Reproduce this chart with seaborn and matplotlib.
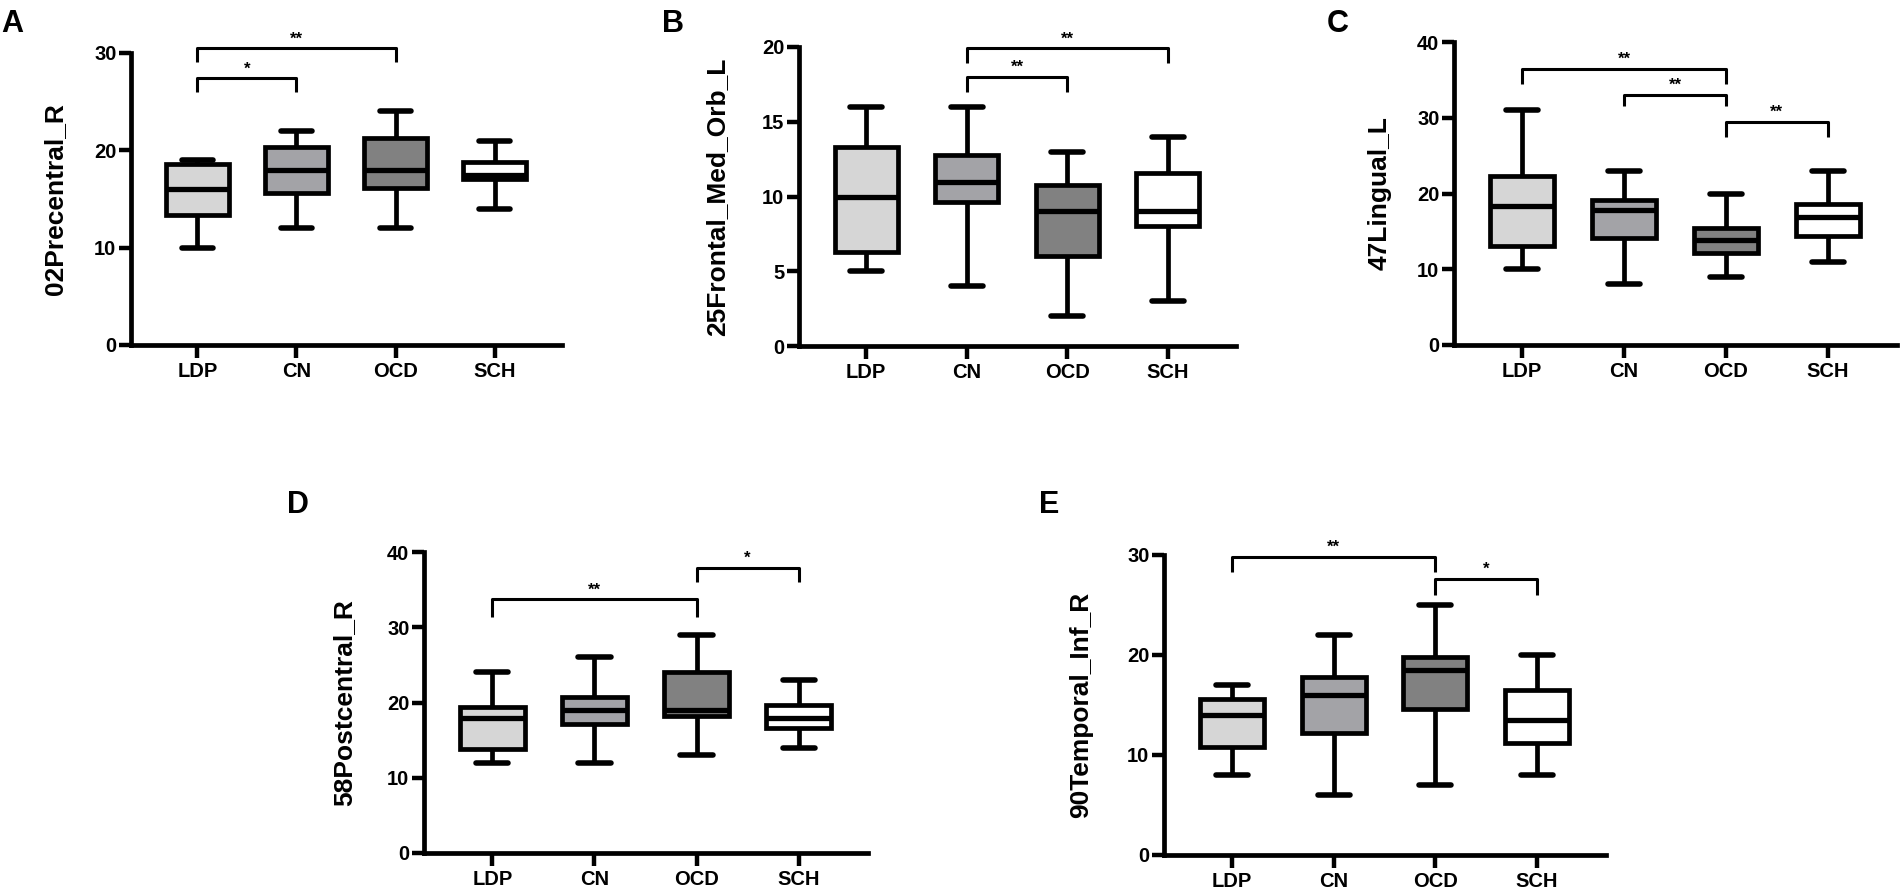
import matplotlib
matplotlib.use("Agg")
import matplotlib.pyplot as plt
import seaborn as sns
import pandas as pd

sns.set_style("white")
plt.rcParams['font.family'] = ['Liberation Sans', 'DejaVu Sans']
plt.rcParams['font.weight'] = 'bold'
for key in ['text.color', 'axes.labelcolor', 'xtick.color', 'ytick.color', 'axes.edgecolor']:
    plt.rcParams[key] = 'black'

groups = ['LDP', 'CN', 'OCD', 'SCH']
colors = ['#d6d6d6', '#a3a3a7', '#818181', '#ffffff']

# five-number summaries per group: min, q1, median, q3, max
precentral_02 = [[10, 13.4, 16, 18.6, 19],
                 [12, 15.6, 18, 20.3, 22],
                 [12, 16.1, 18, 21.3, 24],
                 [14, 17.1, 17.5, 18.8, 21]]
frontal_25 = [[5, 6.3, 10, 13.3, 16],
              [4, 9.6, 11, 12.8, 16],
              [2, 6.0, 9, 10.8, 13],
              [3, 8.0, 9, 11.6, 14]]
lingual_47 = [[10, 13.1, 18.4, 22.3, 31],
              [8, 14.1, 17.8, 19.1, 23],
              [9, 12.1, 13.9, 15.5, 20],
              [11, 14.4, 16.9, 18.6, 23]]
postcentral_58 = [[12, 13.8, 18, 19.4, 24],
                  [12, 17.2, 19, 20.7, 26],
                  [13, 18.2, 19, 24.1, 29],
                  [14, 16.6, 18, 19.7, 23]]
temporal_90 = [[8, 10.8, 14, 15.6, 17],
               [6, 12.2, 16, 17.8, 22],
               [7, 14.6, 18.5, 19.8, 25],
               [8, 11.2, 13.5, 16.5, 20]]

# significance brackets: (left group, right group, bar y, leg end y, label)
brackets_a = [(0, 1, 27.4, 26.0, '*'), (0, 2, 30.5, 29.1, '**')]
brackets_b = [(1, 2, 18.0, 17.0, '**'), (1, 3, 19.9, 18.9, '**')]
brackets_c = [(0, 2, 36.5, 34.5, '**'), (1, 2, 33.0, 31.5, '**'), (2, 3, 29.5, 27.5, '**')]
brackets_d = [(0, 2, 33.7, 31.4, '**'), (2, 3, 37.9, 36.0, '*')]
brackets_e = [(0, 2, 29.8, 28.3, '**'), (2, 3, 27.6, 26.0, '*')]

W, H = 1900, 892
fig = plt.figure(figsize=(W / 100, H / 100), dpi=100)

# panel: letter, ylabel, values, brackets, ymax, ystep, axes box in px (left, right, top, bottom), letter pos, label offset
panels = [
    ('A', '02Precentral_R', precentral_02, brackets_a, 30, 10, (131, 562, 53, 345), (1, 32), 64),
    ('B', '25Frontal_Med_Orb_L', frontal_25, brackets_b, 20, 5, (799, 1236, 47, 346), (662, 32), 70),
    ('C', '47Lingual_L', lingual_47, brackets_c, 40, 10, (1454, 1897, 42, 345), (1327, 32), 62),
    ('D', '58Postcentral_R', postcentral_58, brackets_d, 40, 10, (424, 868, 552, 853), (287, 513), 68),
    ('E', '90Temporal_Inf_R', temporal_90, brackets_e, 30, 10, (1164, 1606, 555, 855), (1039, 513), 71),
]

for letter, ylabel, values, brackets, ymax, ystep, box, lpos, loff in panels:
    l, r, t, b = box
    ax = fig.add_axes([l / W, 1 - b / H, (r - l) / W, (b - t) / H])

    rows = []
    for g, vals in zip(groups, values):
        for v in vals:
            rows.append({'group': g, 'value': v})
    df = pd.DataFrame(rows)

    sns.boxplot(data=df, x='group', y='value', hue='group', order=groups,
                hue_order=groups, palette=colors, saturation=1, whis=(0, 100),
                width=0.63, linewidth=3.4, linecolor='black', legend=False,
                medianprops={'linewidth': 3.8, 'color': 'black'},
                capprops={'solid_capstyle': 'round', 'linewidth': 4},
                ax=ax)

    for i1, i2, yh, yl, lab in brackets:
        ax.plot([i1, i1, i2, i2], [yl, yh, yh, yl], color='black', lw=2.2,
                clip_on=False, solid_capstyle='butt')
        ax.annotate(lab, xy=((i1 + i2) / 2, yh), xytext=(0, 3.5),
                    textcoords='offset points', ha='center', va='baseline',
                    fontsize=12, fontweight='bold', annotation_clip=False)

    ax.set_xlim(-0.67, 3.68)
    ax.set_ylim(0, ymax)
    ax.set_yticks(range(0, ymax + 1, ystep))
    sns.despine(ax=ax)
    for s in ['left', 'bottom']:
        ax.spines[s].set_linewidth(3.4)
        ax.spines[s].set_color('black')
    ax.tick_params(axis='y', direction='out', length=8.5, width=3.2, pad=2,
                   labelsize=14.5, left=True, colors='black')
    ax.tick_params(axis='x', direction='out', length=9.5, width=3.2, pad=3,
                   labelsize=14.5, bottom=True, colors='black')
    for lab in ax.get_xticklabels() + ax.get_yticklabels():
        lab.set_fontweight('bold')
    ax.set_xlabel('')
    ax.set_ylabel(ylabel, fontsize=19, fontweight='bold', color='black')
    ax.yaxis.set_label_coords(-loff / (r - l), 0.5)

    fig.text(lpos[0] / W, 1 - lpos[1] / H, letter, fontsize=22,
             fontweight='bold', ha='left', va='baseline', color='black')

fig.savefig('out.png', dpi=100)
